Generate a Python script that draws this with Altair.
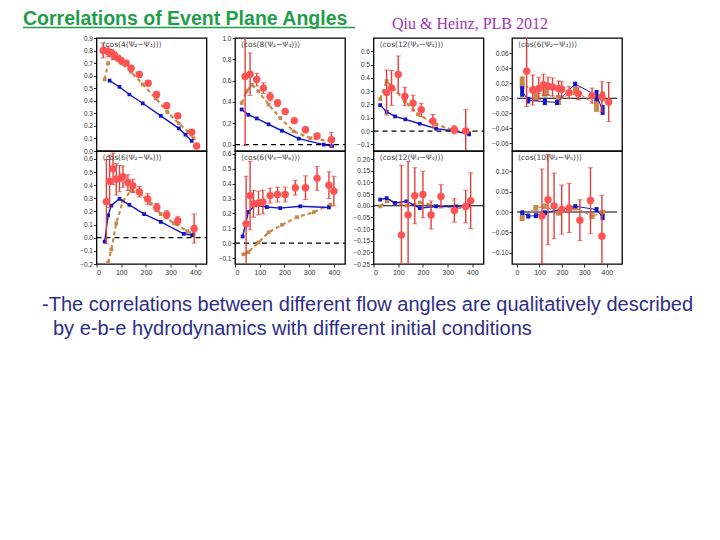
import altair as alt
import pandas as pd

TITLE = "Correlations of Event Plane Angles"
REF = "Qiu & Heinz, PLB 2012"
BODY1 = "-The correlations between different  flow angles are qualitatively described"
BODY2 = "by e-b-e hydrodynamics with different initial conditions"

PANEL_LABELS = [
    "⟨cos(4(Ψ₂−Ψ₄))⟩", "⟨cos(8(Ψ₂−Ψ₄))⟩", "⟨cos(12(Ψ₂−Ψ₄))⟩", "⟨cos(6(Ψ₂−Ψ₃))⟩",
    "⟨cos(6(Ψ₂−Ψ₆))⟩", "⟨cos(6(Ψ₃−Ψ₆))⟩", "⟨cos(12(Ψ₃−Ψ₄))⟩", "⟨cos(10(Ψ₂−Ψ₅))⟩",
]
Y_DOMAINS = [
    [0, 0.9], [-0.06, 1.0], [-0.15, 0.7], [-0.07, 0.08],
    [-0.2, 0.66], [-0.14, 0.62], [-0.25, 0.235], [-0.127, 0.149],
]
Y_TICKS = [
    [0, 0.1, 0.2, 0.3, 0.4, 0.5, 0.6, 0.7, 0.8, 0.9],
    [0, 0.2, 0.4, 0.6, 0.8, 1],
    [-0.1, 0, 0.1, 0.2, 0.3, 0.4, 0.5, 0.6],
    [-0.06, -0.04, -0.02, 0, 0.02, 0.04, 0.06],
    [-0.2, -0.1, 0, 0.1, 0.2, 0.3, 0.4, 0.5, 0.6],
    [-0.1, 0, 0.1, 0.2, 0.3, 0.4, 0.5, 0.6],
    [-0.25, -0.2, -0.15, -0.1, -0.05, 0, 0.05, 0.1, 0.15, 0.2],
    [-0.1, -0.05, 0, 0.05, 0.1],
]
X_TICKS = [0, 100, 200, 300, 400]
ZERO_STYLE = ["none", "dash", "dash", "solid", "dash", "dash", "solid", "solid"]

# data points (red)
RED_X = [
    [27, 47, 60, 73, 87, 100, 120, 140, 173, 209, 243, 284, 329, 385, 405],
    [41, 61, 88, 115, 142, 172, 203, 240, 285, 332, 390],
    [53, 73, 100, 127, 160, 193, 240, 327, 373],
    [43, 70, 97, 118, 138, 158, 185, 199, 232, 273, 334, 378, 408],
    [40, 53, 67, 80, 93, 107, 127, 147, 173, 207, 244, 284, 329, 395],
    [45, 61, 75, 95, 113, 142, 172, 203, 244, 285, 332, 380, 400],
    [113, 140, 167, 200, 233, 273, 327, 373, 393],
    [111, 138, 165, 199, 232, 280, 327, 378],
]
RED_Y = [
    [0.80, 0.79, 0.78, 0.76, 0.74, 0.72, 0.70, 0.66, 0.61, 0.54, 0.45, 0.36, 0.28, 0.15, 0.04],
    [0.64, 0.66, 0.61, 0.53, 0.45, 0.39, 0.31, 0.225, 0.14, 0.08, 0.045],
    [0.29, 0.325, 0.425, 0.26, 0.21, 0.16, 0.075, 0.01, 0.0],
    [0.036, 0.011, 0.013, 0.018, 0.016, 0.015, 0.013, 0.012, 0.0075, 0.006, 0.0035, 0.002, -0.005],
    [0.275, 0.43, 0.525, 0.445, 0.45, 0.465, 0.42, 0.395, 0.35, 0.295, 0.23, 0.175, 0.13, 0.07],
    [0.13, 0.32, 0.265, 0.27, 0.277, 0.32, 0.327, 0.327, 0.373, 0.373, 0.436, 0.39, 0.35],
    [-0.126, -0.04, 0.043, 0.048, -0.04, 0.04, -0.02, -0.003, 0.022],
    [-0.01, 0.03, 0.015, 0.006, 0.01, -0.02, 0.028, -0.059],
]
RED_ERR = [
    [0.06, 0.04, 0.03, 0.03, 0.02, 0.02, 0.02, 0.02, 0.02, 0.02, 0.02, 0.02, 0.02, 0.02, 0.02],
    [0.65, 0.20, 0.06, 0.05, 0.04, 0.03, 0.02, 0.02, 0.02, 0.02, 0.07],
    [0.17, 0.13, 0.14, 0.07, 0.06, 0.05, 0.05, 0.03, 0.16],
    [0.047, 0.02, 0.015, 0.014, 0.012, 0.012, 0.01, 0.01, 0.008, 0.008, 0.01, 0.02, 0.026],
    [0.32, 0.2, 0.12, 0.12, 0.1, 0.08, 0.06, 0.05, 0.04, 0.04, 0.03, 0.03, 0.03, 0.11],
    [0.32, 0.23, 0.09, 0.08, 0.08, 0.05, 0.05, 0.05, 0.05, 0.08, 0.08, 0.09, 0.1],
    [0.3, 0.23, 0.12, 0.1, 0.06, 0.05, 0.05, 0.07, 0.12],
    [0.115, 0.11, 0.08, 0.06, 0.06, 0.05, 0.08, 0.1],
]

# hydro model 1 (blue, solid)
BLUE_X = [
    [53, 93, 133, 187, 260, 333, 360, 385],
    [27, 54, 88, 136, 190, 258, 359, 393],
    [27, 53, 87, 129, 187, 253, 327, 387],
    [23, 50, 124, 178, 259, 354, 381],
    [33, 47, 60, 93, 133, 193, 260, 353, 387],
    [31, 54, 81, 129, 183, 264, 380],
    [27, 53, 87, 133, 187, 253, 333, 387],
    [23, 50, 84, 124, 259, 354, 381],
]
BLUE_Y = [
    [0.56, 0.51, 0.45, 0.38, 0.28, 0.18, 0.13, 0.08],
    [0.33, 0.28, 0.245, 0.19, 0.13, 0.056, 0.0, -0.015],
    [0.195, 0.145, 0.11, 0.088, 0.055, 0.018, 0.0, -0.025],
    [0.009, -0.0025, -0.0045, -0.0055, 0.019, 0.0035, -0.0155],
    [-0.03, 0.17, 0.245, 0.295, 0.25, 0.18, 0.12, 0.03, 0.02],
    [0.045, 0.21, 0.255, 0.243, 0.236, 0.248, 0.24],
    [0.026, 0.033, 0.012, 0.019, -0.01, -0.003, -0.003, 0.004],
    [-0.002, -0.01, -0.009, -0.002, 0.014, 0.006, -0.013],
]
BLUE_HALF = [
    None, None, None,
    [0.007, 0.0045, 0.0045, 0.0035, 0.003, 0.0075, 0.0065],
    None, None, None,
    [0.006, 0.006, 0.006, 0.006, 0.005, 0.006, 0.007],
]

# hydro model 2 (brown, dashed)
BROWN_X = [
    [33, 47, 67, 100, 140, 187, 240, 287, 333, 373, 393],
    [27, 47, 68, 95, 136, 183, 237, 305, 393],
    [27, 53, 80, 127, 180, 253, 327, 387],
    [23, 84, 124, 185, 259, 354, 381],
    [47, 60, 80, 107, 140, 180, 220, 260, 313, 367, 393],
    [34, 54, 95, 136, 190, 251, 319, 386],
    [27, 53, 87, 133, 187, 253, 347, 387],
    [23, 84, 124, 185, 259, 334, 381],
]
BROWN_Y = [
    [0.57, 0.70, 0.74, 0.70, 0.63, 0.53, 0.42, 0.31, 0.22, 0.15, 0.10],
    [0.39, 0.50, 0.56, 0.50, 0.375, 0.25, 0.125, 0.06, 0.03],
    [0.24, 0.375, 0.325, 0.225, 0.125, 0.05, 0.005, -0.013],
    [0.021, 0.006, 0.0075, -0.0025, 0.01, -0.01, 0.0025],
    [-0.19, -0.09, 0.11, 0.28, 0.36, 0.33, 0.26, 0.18, 0.11, 0.05, 0.03],
    [-0.075, -0.06, 0.005, 0.073, 0.123, 0.175, 0.209, 0.26],
    [-0.003, 0.019, 0.012, 0.0, 0.014, 0.0, -0.006, -0.003],
    [-0.015, 0.01, 0.014, -0.002, 0.01, -0.01, -0.002],
]
BROWN_HALF = [
    None, None, None,
    [0.008, 0.01, 0.0055, 0.0065, 0.006, 0.008, 0.0065],
    None, None, None,
    [0.007, 0.007, 0.007, 0.007, 0.006, 0.007, 0.007],
]

RED = "#ff5252"
RED_BAR = "#e0403c"
BLUE = "#1414c8"
BROWN = "#c8894a"
GREEN = "#1f9e4a"
PURPLE = "#a035b0"
NAVY = "#2e2e8a"

PW, PH = 110, 113
SPW = 59.5


def panel(i, bottom):
    xs = alt.Scale(domain=[0, 445], nice=False, zero=False)
    ys = alt.Scale(domain=Y_DOMAINS[i], nice=False, zero=False)
    if bottom:
        xax = alt.Axis(values=X_TICKS, title=None, grid=False, domain=False, tickSize=3,
                       labelFontSize=7, labelColor="#333", labelPadding=1, format="d")
    else:
        xax = None
    yax = alt.Axis(values=Y_TICKS[i], title=None, grid=False, domain=False, tickSize=3,
                   labelFontSize=6.5, labelColor="#333", labelPadding=1)

    def X(f):
        return alt.X(f, type="quantitative", scale=xs, axis=xax)

    def Y(f):
        return alt.Y(f, type="quantitative", scale=ys, axis=yax)

    layers = []
    if ZERO_STYLE[i] != "none":
        dash = [5, 4] if ZERO_STYLE[i] == "dash" else [1, 0]
        layers.append(
            alt.Chart(pd.DataFrame({"x": [0, 445], "y": [0, 0]}))
            .mark_line(color="black", strokeWidth=1.2, strokeDash=dash, clip=True)
            .encode(x=X("x"), y=Y("y"))
        )

    brown = pd.DataFrame({"x": BROWN_X[i], "y": BROWN_Y[i]})
    blue = pd.DataFrame({"x": BLUE_X[i], "y": BLUE_Y[i]})
    if BROWN_HALF[i] is not None:
        brown["lo"] = [y - h for y, h in zip(BROWN_Y[i], BROWN_HALF[i])]
        brown["hi"] = [y + h for y, h in zip(BROWN_Y[i], BROWN_HALF[i])]
        blue["lo"] = [y - h for y, h in zip(BLUE_Y[i], BLUE_HALF[i])]
        blue["hi"] = [y + h for y, h in zip(BLUE_Y[i], BLUE_HALF[i])]
        layers.append(alt.Chart(brown).mark_line(color=BROWN, strokeWidth=1.2, strokeDash=[3, 2], clip=True)
                      .encode(x=X("x"), y=Y("y")))
        layers.append(alt.Chart(brown).mark_bar(color=BROWN, size=5, clip=True)
                      .encode(x=X("x"), y=Y("lo"), y2="hi"))
        layers.append(alt.Chart(blue).mark_line(color=BLUE, strokeWidth=1, clip=True)
                      .encode(x=X("x"), y=Y("y")))
        layers.append(alt.Chart(blue).mark_bar(color=BLUE, size=4, clip=True)
                      .encode(x=X("x"), y=Y("lo"), y2="hi"))
    else:
        layers.append(alt.Chart(brown).mark_line(color=BROWN, strokeWidth=2.2, strokeDash=[4, 3], clip=True)
                      .encode(x=X("x"), y=Y("y")))
        layers.append(alt.Chart(brown).mark_point(color=BROWN, filled=True, shape="square", size=14,
                                                  opacity=1, clip=True)
                      .encode(x=X("x"), y=Y("y")))
        layers.append(alt.Chart(blue).mark_line(color=BLUE, strokeWidth=1.4, clip=True)
                      .encode(x=X("x"), y=Y("y")))
        layers.append(alt.Chart(blue).mark_point(color=BLUE, filled=True, shape="square", size=14,
                                                 opacity=1, clip=True)
                      .encode(x=X("x"), y=Y("y")))

    red = pd.DataFrame({"x": RED_X[i], "y": RED_Y[i]})
    red["lo"] = [y - e for y, e in zip(RED_Y[i], RED_ERR[i])]
    red["hi"] = [y + e for y, e in zip(RED_Y[i], RED_ERR[i])]
    layers.append(alt.Chart(red).mark_rule(color=RED_BAR, strokeWidth=1.4, clip=True)
                  .encode(x=X("x"), y=Y("lo"), y2="hi"))
    layers.append(alt.Chart(red).mark_tick(color=RED_BAR, orient="horizontal", size=5, thickness=1, clip=True)
                  .encode(x=X("x"), y=Y("lo")))
    layers.append(alt.Chart(red).mark_tick(color=RED_BAR, orient="horizontal", size=5, thickness=1, clip=True)
                  .encode(x=X("x"), y=Y("hi")))
    layers.append(alt.Chart(red).mark_point(color=RED, filled=True, shape="circle", size=55,
                                            opacity=1, clip=True)
                  .encode(x=X("x"), y=Y("y")))

    layers.append(
        alt.Chart(pd.DataFrame({"t": [PANEL_LABELS[i]]}))
        .mark_text(align="left", baseline="top", fontSize=7.5, color="#444", font="DejaVu Sans")
        .encode(x=alt.value(6), y=alt.value(3), text="t:N")
    )
    return alt.layer(*layers).properties(width=PW, height=PH)


NOFRAME = alt.ViewBackground(stroke=None)

# Row-1 spacer carries the slide header (above the panels)
header = alt.layer(
    alt.Chart(pd.DataFrame({"a": [0]}))
    .mark_rule(opacity=0)
    .encode(x=alt.value(0), x2=alt.value(1), y=alt.value(-29)),
    alt.Chart(pd.DataFrame({"t": [TITLE]}))
    .mark_text(align="left", baseline="alphabetic", fontSize=19.5, fontWeight="bold",
               color=GREEN, font="Liberation Sans")
    .encode(x=alt.value(15), y=alt.value(-13.4), text="t:N"),
    alt.Chart(pd.DataFrame({"t": [TITLE]}))
    .mark_rule(color=GREEN, strokeWidth=1.6)
    .encode(x=alt.value(15), x2=alt.value(347), y=alt.value(-10.5)),
    alt.Chart(pd.DataFrame({"t": [REF]}))
    .mark_text(align="left", baseline="alphabetic", fontSize=16, color=PURPLE, font="Liberation Serif")
    .encode(x=alt.value(384), y=alt.value(-9), text="t:N"),
).properties(width=SPW, height=PH, view=NOFRAME)

# Row-2 spacer carries the slide body text (below the panels)
body = alt.layer(
    alt.Chart(pd.DataFrame({"t": [BODY1]}))
    .mark_text(align="left", baseline="alphabetic", fontSize=20, color=NAVY, font="Liberation Sans")
    .encode(x=alt.value(34), y=alt.value(160), text="t:N"),
    alt.Chart(pd.DataFrame({"t": [BODY2]}))
    .mark_text(align="left", baseline="alphabetic", fontSize=20, color=NAVY, font="Liberation Sans")
    .encode(x=alt.value(45), y=alt.value(184), text="t:N"),
).properties(width=SPW, height=PH, view=NOFRAME)

cells = [header] + [panel(i, False) for i in range(4)] + [body] + [panel(i, True) for i in range(4, 8)]

chart = (
    alt.concat(*cells, columns=5, spacing=alt.RowColnumber(row=0, column=28.5), bounds="flush")
    .properties(padding=0)
    .configure(font="Liberation Sans")
    .configure_view(stroke="black", strokeWidth=1.3)
    .configure_axis(tickColor="black", tickWidth=0.8)
)

chart.save("out.html", embed_options={"renderer": "svg", "actions": False})
